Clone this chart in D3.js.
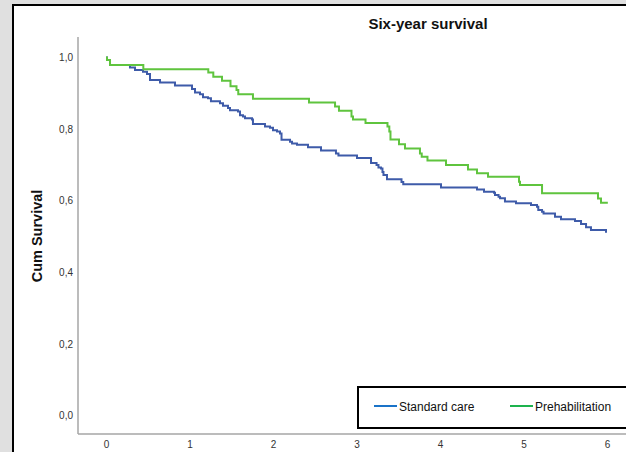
<!DOCTYPE html>
<html>
<head>
<meta charset="utf-8">
<script src="https://cdn.jsdelivr.net/npm/d3@7"></script>
<style>
  body { margin: 0; background: #e0e0e0; }
  svg { display: block; font-family: "Liberation Sans", Arial, sans-serif; }
</style>
</head>
<body>
<div id="chart"></div>
<script>
// Kaplan-Meier steps (years, cumulative survival)
let stdTime = [0, 0.012, 0.048, 0.287, 0.347, 0.443, 0.491, 0.527, 0.647, 0.826, 1.030, 1.066, 1.126, 1.162, 1.222,
    1.257, 1.365, 1.401, 1.461, 1.485, 1.581, 1.605, 1.641, 1.665, 1.749, 1.760, 1.904, 1.964, 2.000, 2.048,
    2.084, 2.102, 2.204, 2.228, 2.287, 2.419, 2.575, 2.754, 2.784, 3.006, 3.174, 3.240, 3.263, 3.293, 3.311,
    3.323, 3.365, 3.539, 3.560, 4.012, 4.443, 4.527, 4.647, 4.659, 4.701, 4.719, 4.778, 4.910, 5.090, 5.162,
    5.177, 5.222, 5.240, 5.377, 5.449, 5.617, 5.689, 5.749, 5.808, 5.988, 6.0];
let stdSurv = [1.0, 0.993, 0.979, 0.972, 0.965, 0.960, 0.954, 0.937, 0.930, 0.922, 0.912, 0.902, 0.897, 0.889, 0.886,
    0.878, 0.872, 0.865, 0.859, 0.853, 0.849, 0.839, 0.835, 0.830, 0.827, 0.814, 0.807, 0.804, 0.797, 0.793,
    0.788, 0.770, 0.765, 0.760, 0.756, 0.749, 0.740, 0.732, 0.726, 0.719, 0.705, 0.700, 0.693, 0.690, 0.680,
    0.672, 0.660, 0.652, 0.646, 0.637, 0.631, 0.625, 0.622, 0.616, 0.611, 0.607, 0.598, 0.593, 0.588, 0.583,
    0.574, 0.569, 0.564, 0.555, 0.548, 0.543, 0.535, 0.526, 0.518, 0.513, 0.513];

let prehabTime = [0, 0.012, 0.048, 0.447, 1.225, 1.285, 1.389, 1.491, 1.563, 1.584, 1.760, 2.431, 2.743, 2.790,
    2.940, 2.958, 3.108, 3.371, 3.393, 3.407, 3.509, 3.581, 3.760, 3.781, 3.850, 4.072, 4.335, 4.443, 4.575,
    4.946, 4.958, 5.222, 5.892, 5.928, 6.01];
let prehabSurv = [1.0, 0.993, 0.979, 0.967, 0.958, 0.946, 0.935, 0.920, 0.909, 0.897, 0.885, 0.874, 0.863, 0.851,
    0.835, 0.827, 0.817, 0.807, 0.793, 0.771, 0.758, 0.746, 0.732, 0.723, 0.712, 0.700, 0.687, 0.677, 0.667,
    0.653, 0.644, 0.621, 0.606, 0.594, 0.594];

let xTicks = [0, 1, 2, 3, 4, 5, 6];
let yTicks = [0, 0.2, 0.4, 0.6, 0.8, 1.0];
let groupNames = ["Standard care", "Prehabilitation"];

let W = 626, H = 452;

let svg = d3.select("#chart")
    .append("svg")
    .attr("width", W)
    .attr("height", H);

// Grey page, white panel with black frame (runs off the right/bottom edge)
svg.append("rect")
    .attr("x", 13).attr("y", 5)
    .attr("width", W + 20).attr("height", H + 20)
    .style("fill", "#fff")
    .style("stroke", "#000")
    .style("stroke-width", 2);

// Scales
let x = d3.scaleLinear().domain([0, 6]).range([106, 607]);
let y = d3.scaleLinear().domain([0, 1]).range([415.5, 57.5]);

// Axis frame lines
svg.append("line")
    .attr("x1", 78).attr("x2", 78).attr("y1", 37).attr("y2", 434)
    .style("stroke", "#a6a6a6").style("stroke-width", 1.5);
svg.append("line")
    .attr("x1", 78).attr("x2", W).attr("y1", 434).attr("y2", 434)
    .style("stroke", "#a6a6a6").style("stroke-width", 1.5);

let fmt = d => d3.format(".1f")(d).replace(".", ",");

// Y axis
let yAxis = svg.append("g")
    .attr("transform", "translate(78,0)")
    .call(d3.axisLeft(y).tickValues(yTicks).tickSize(0).tickPadding(5).tickFormat(fmt));
yAxis.select(".domain").remove();
yAxis.selectAll("text")
    .style("font-family", "Liberation Sans, Arial, sans-serif")
    .style("font-size", "10px")
    .style("fill", "#333");

// X axis
let xAxis = svg.append("g")
    .attr("transform", "translate(0,434)")
    .call(d3.axisBottom(x).tickValues(xTicks).tickSize(0).tickPadding(7).tickFormat(d3.format("d")));
xAxis.select(".domain").remove();
xAxis.selectAll("text")
    .style("font-family", "Liberation Sans, Arial, sans-serif")
    .style("font-size", "10px")
    .style("fill", "#333");

// Title
svg.append("text")
    .attr("x", 428)
    .attr("y", 29)
    .style("text-anchor", "middle")
    .style("font-size", "15px")
    .style("font-weight", "bold")
    .style("fill", "#111")
    .text("Six-year survival");

// Y axis label
svg.append("text")
    .attr("transform", "translate(42,236) rotate(-90)")
    .style("text-anchor", "middle")
    .style("font-size", "14.5px")
    .style("font-weight", "bold")
    .style("fill", "#111")
    .text("Cum Survival");

// Survival curves
let line = d3.line()
    .x(d => x(d[0]))
    .y(d => y(d[1]))
    .curve(d3.curveStepAfter);

let series = [
    {name: groupNames[0], pts: d3.zip(stdTime, stdSurv), color: "#3e5ba9"},
    {name: groupNames[1], pts: d3.zip(prehabTime, prehabSurv), color: "#5fc43e"}
];

svg.selectAll(".km")
    .data(series)
    .enter()
    .append("path")
    .attr("class", "km")
    .attr("d", d => line(d.pts))
    .style("fill", "none")
    .style("stroke", d => d.color)
    .style("stroke-width", 2);

// Legend
svg.append("rect")
    .attr("x", 358).attr("y", 387)
    .attr("width", 300).attr("height", 41)
    .style("fill", "#fff")
    .style("stroke", "#000")
    .style("stroke-width", 2);

let legendItems = [
    {name: groupNames[0], color: "#1a73c8", x: 374},
    {name: groupNames[1], color: "#1db34e", x: 510}
];

legendItems.forEach(item => {
    svg.append("line")
        .attr("x1", item.x).attr("x2", item.x + 23)
        .attr("y1", 406).attr("y2", 406)
        .style("stroke", item.color)
        .style("stroke-width", 2);
    svg.append("text")
        .attr("x", item.x + 25)
        .attr("y", 410.5)
        .style("font-size", "12px")
        .style("fill", "#111")
        .text(item.name);
});
</script>
</body>
</html>
